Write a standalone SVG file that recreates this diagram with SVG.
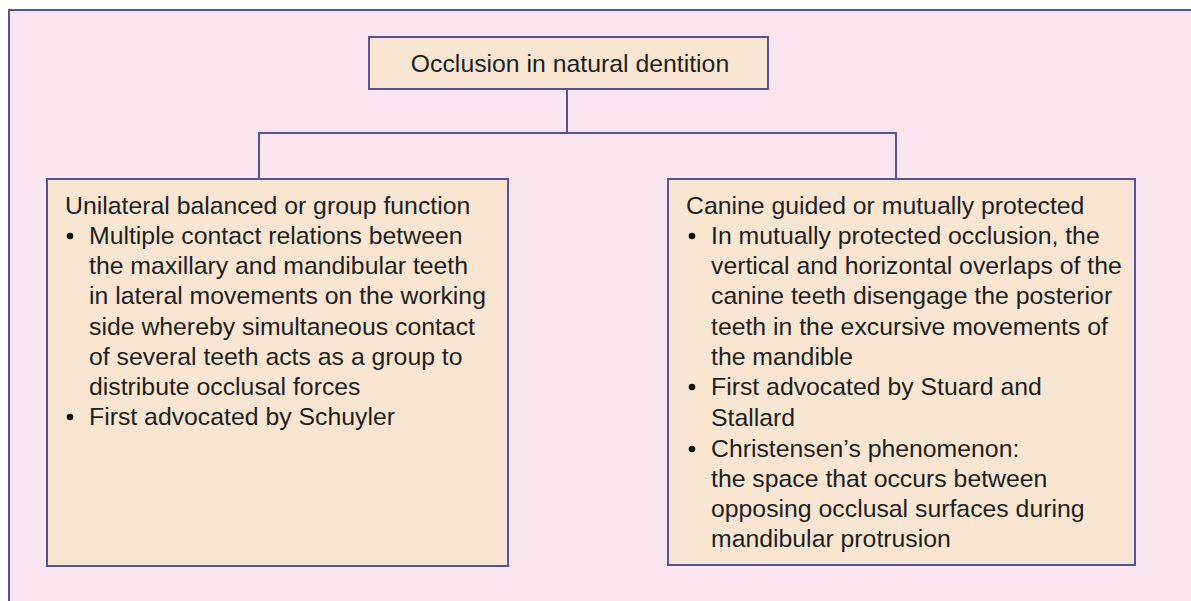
<svg xmlns="http://www.w3.org/2000/svg" width="1191" height="601" viewBox="0 0 1191 601">
<style>
.box{fill:#f8e6d3;stroke:#56529b;stroke-width:2}
.ln{fill:none;stroke:#56529b;stroke-width:2}
text{font-family:"Liberation Sans",Arial,sans-serif;font-size:24.8px;fill:#1e1e1e}
.bul{fill:#111}
</style>
<rect x="0" y="0" width="1191" height="601" fill="#ffffff"/>
<rect x="9" y="10" width="1190" height="600" fill="#fae6f0" stroke="#56529b" stroke-width="2"/>
<g id="connectors">
<path class="ln" d="M567 89 V133 M259 179 V133 H896 V179"/>
</g>
<g id="root">
<rect class="box" x="369" y="37" width="399" height="52"/>
<text x="570" y="72" text-anchor="middle">Occlusion in natural dentition</text>
</g>
<g id="left">
<rect class="box" x="47" y="179" width="461" height="387"/>
<text x="65" y="214">Unilateral balanced or group function</text>
<circle class="bul" cx="70" cy="236" r="3.3"/>
<text x="89" y="244">Multiple contact relations between</text>
<text x="89" y="274">the maxillary and mandibular teeth</text>
<text x="89" y="304">in lateral movements on the working</text>
<text x="89" y="335">side whereby simultaneous contact</text>
<text x="89" y="365">of several teeth acts as a group to</text>
<text x="89" y="395">distribute occlusal forces</text>
<circle class="bul" cx="70" cy="417" r="3.3"/>
<text x="89" y="425">First advocated by Schuyler</text>
</g>
<g id="right">
<rect class="box" x="668" y="179" width="467" height="386"/>
<text x="686" y="214">Canine guided or mutually protected</text>
<circle class="bul" cx="692" cy="236" r="3.3"/>
<text x="711" y="244">In mutually protected occlusion, the</text>
<text x="711" y="274">vertical and horizontal overlaps of the</text>
<text x="711" y="304">canine teeth disengage the posterior</text>
<text x="711" y="335">teeth in the excursive movements of</text>
<text x="711" y="365">the mandible</text>
<circle class="bul" cx="692" cy="387" r="3.3"/>
<text x="711" y="395">First advocated by Stuard and</text>
<text x="711" y="426">Stallard</text>
<circle class="bul" cx="692" cy="449" r="3.3"/>
<text x="711" y="457">Christensen’s phenomenon:</text>
<text x="711" y="487">the space that occurs between</text>
<text x="711" y="517">opposing occlusal surfaces during</text>
<text x="711" y="547">mandibular protrusion</text>
</g>
</svg>
